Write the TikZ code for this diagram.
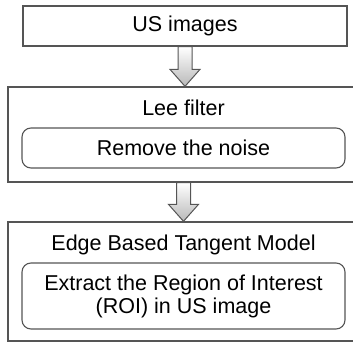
\documentclass[tikz,border=0pt]{standalone}
\usepackage{fontspec}
\setmainfont{Liberation Sans}
\usetikzlibrary{calc,shadings}
\definecolor{lineGray}{RGB}{85,85,85}

\newcommand{\fatarrow}[2]{%
    \path[draw=lineGray, line width=1pt, top color=white, bottom color=gray!55]
        let \p1=(#1.south), \p2=(#2.north) in
        ({\x1-7pt},\y1) -- ({\x1+7pt},\y1) -- ({\x1+7pt},{\y2+17pt}) -- ({\x1+15pt},{\y2+17pt})
        -- (\x1,\y2) -- ({\x1-15pt},{\y2+17pt}) -- ({\x1-7pt},{\y2+17pt}) -- cycle;}

\begin{document}
\begin{tikzpicture}[x=1pt, y=-1pt, line width=1.3pt, font=\fontsize{21.5}{23}\selectfont,
    box/.style={draw=lineGray, rectangle, inner sep=0pt},
    roundbox/.style={draw=lineGray, rounded corners=9pt, line width=1.1pt, inner sep=0pt, align=center}]
    \useasboundingbox (0,0) rectangle (353,343);

    \node[box, minimum width=324pt, minimum height=40pt] (us) at (185,26) {US images};

    \node[box, minimum width=351pt, minimum height=95pt] (filter) at (183.5,134.5) {};
    \node (filtertitle) at (183.5,108) {Lee filter};
    \node[roundbox, minimum width=323pt, minimum height=40pt] (noise) at (183.5,148) {Remove the noise};

    \node[box, minimum width=351pt, minimum height=119pt] (model) at (183.5,281.5) {};
    \node (modeltitle) at (183.5,245) {Edge Based Tangent Model};
    \node[roundbox, minimum width=323pt, minimum height=66pt] (roi) at (183.5,296)
        {Extract the Region of Interest\\(ROI) in US image};

    \fatarrow{us}{filter}
    \fatarrow{filter}{model}
\end{tikzpicture}
\end{document}
